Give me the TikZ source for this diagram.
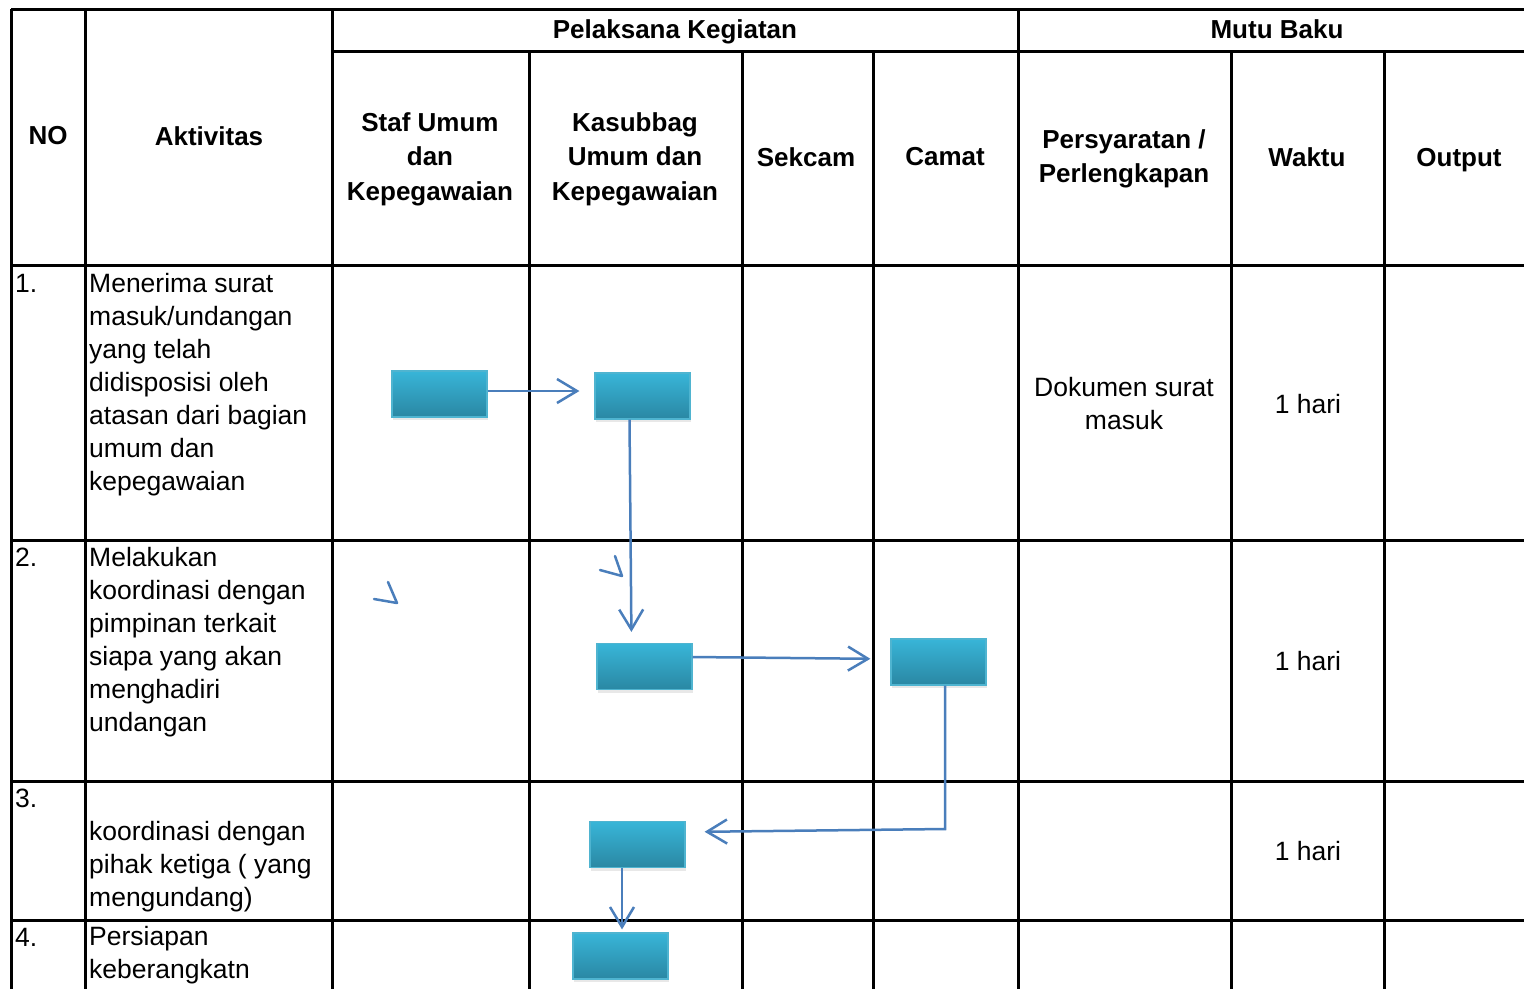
\documentclass[tikz,border=0pt]{standalone}
\usepackage{fontspec}
\setmainfont{Liberation Sans}
\usetikzlibrary{arrows.meta,shadows}
\definecolor{boxtop}{HTML}{38B5D8}
\definecolor{boxbot}{HTML}{2A87A3}
\definecolor{boxline}{HTML}{4FB4D0}
\definecolor{arrcol}{HTML}{4A7EBB}
\tikzset{
  grid/.style={line width=3pt, black},
  hdr/.style={font=\fontsize{26}{34.5}\selectfont\bfseries, align=center, inner sep=0pt},
  txt/.style={font=\fontsize{26.5}{33}\selectfont, align=left, inner sep=0pt, anchor=base west},
  ctxt/.style={font=\fontsize{26.5}{33}\selectfont, align=center, inner sep=0pt},
  flowbox/.style={rectangle, minimum width=95pt, minimum height=46pt, inner sep=0pt,
    top color=boxtop, bottom color=boxbot, draw=boxline, line width=1.2pt,
    drop shadow={opacity=0.18, shadow xshift=1pt, shadow yshift=-3pt}},
  arr/.style={arrcol, line width=2.5pt, -{Straight Barb[length=20pt,width=24pt,line width=2.5pt]}},
  barb/.style={arrcol, line width=2.5pt, line cap=round, line join=round}
}
\begin{document}
\begin{tikzpicture}[x=1pt,y=-1pt]
\useasboundingbox (0,0) rectangle (1524,989);
% grid
\draw[grid] (11,9) -- (1524,9);
\draw[grid] (332,51) -- (1524,51);
\foreach \yy in {265,540,781,920} \draw[grid] (11,\yy) -- (1524,\yy);
\foreach \xx in {11,85,332,1018} \draw[grid] (\xx,9) -- (\xx,989);
\foreach \xx in {529,742,873,1231,1384} \draw[grid] (\xx,51) -- (\xx,989);
% headers
\node[hdr] (hno) at (48,136) {NO};
\node[hdr] (hakt) at (209,136) {Aktivitas};
\node[hdr] (hpel) at (675,32) {Pelaksana Kegiatan};
\node[hdr] (hmutu) at (1277,29) {Mutu Baku};
\node[hdr] (hstaf) at (430,159) {Staf Umum\\dan\\Kepegawaian};
\node[hdr] (hkas) at (635,159) {Kasubbag\\Umum dan\\Kepegawaian};
\node[hdr] (hsek) at (806,157) {Sekcam};
\node[hdr] (hcam) at (945,157) {Camat};
\node[hdr] (hsyar) at (1124,159) {Persyaratan /\\Perlengkapan};
\node[hdr] (hwak) at (1307,157) {Waktu};
\node[hdr] (hout) at (1459,160) {Output};
% numbers
\node[txt] (n1) at (15,292) {1.};
\node[txt] (n2) at (15,566) {2.};
\node[txt] (n3) at (15,807) {3.};
\node[txt] (n4) at (15,946) {4.};
% activities (base anchor = last line's baseline)
\node[txt] (a1) at (89,490) {Menerima surat\\masuk/undangan\\yang telah\\didisposisi oleh\\atasan dari bagian\\umum dan\\kepegawaian};
\node[txt] (a2) at (89,731) {Melakukan\\koordinasi dengan\\pimpinan terkait\\siapa yang akan\\menghadiri\\undangan};
\node[txt] (a3) at (89,906) {koordinasi dengan\\pihak ketiga ( yang\\mengundang)};
\node[txt] (a4) at (89,978) {Persiapan\\keberangkatn};
% mutu baku
\node[ctxt] (s1) at (1124,404) {Dokumen surat\\masuk};
\node[ctxt] (w1) at (1308,404) {1 hari};
\node[ctxt] (w2) at (1308,661) {1 hari};
\node[ctxt] (w3) at (1308,851) {1 hari};
% boxes
\node[flowbox] (b1) at (439.5,394) {};
\node[flowbox] (b2) at (642.5,396) {};
\node[flowbox] (b3) at (644.5,666.5) {};
\node[flowbox] (b4) at (938.5,662) {};
\node[flowbox] (b5) at (637.5,844.5) {};
\node[flowbox] (b6) at (620.5,956) {};
% connectors
\draw[arr, shorten >=15pt] ([yshift=3pt]b1.east) -- ([yshift=3pt]b1.east -| b2.west);
\draw[arr, shorten >=11pt] ([xshift=-13pt]b2.south) -- ([xshift=-13pt]b3.north);
\draw[arr, shorten >=20pt] ([yshift=9.5pt]b3.east) -- ([yshift=3pt]b4.west);
\coordinate (c4) at (945,829);
\draw[arr, shorten >=19pt] ([xshift=6.5pt]b4.south) -- (c4) -- ([yshift=12.5pt]b5.east);
\draw[arr, shorten >=3pt] ([xshift=-15.5pt]b5.south) -- ([xshift=1.5pt]b6.north);
% stray arrowheads
\draw[barb] (374,599) -- (397,603) -- (388,582);
\draw[barb] (600,570) -- (622,576) -- (615,556);
\end{tikzpicture}
\end{document}
